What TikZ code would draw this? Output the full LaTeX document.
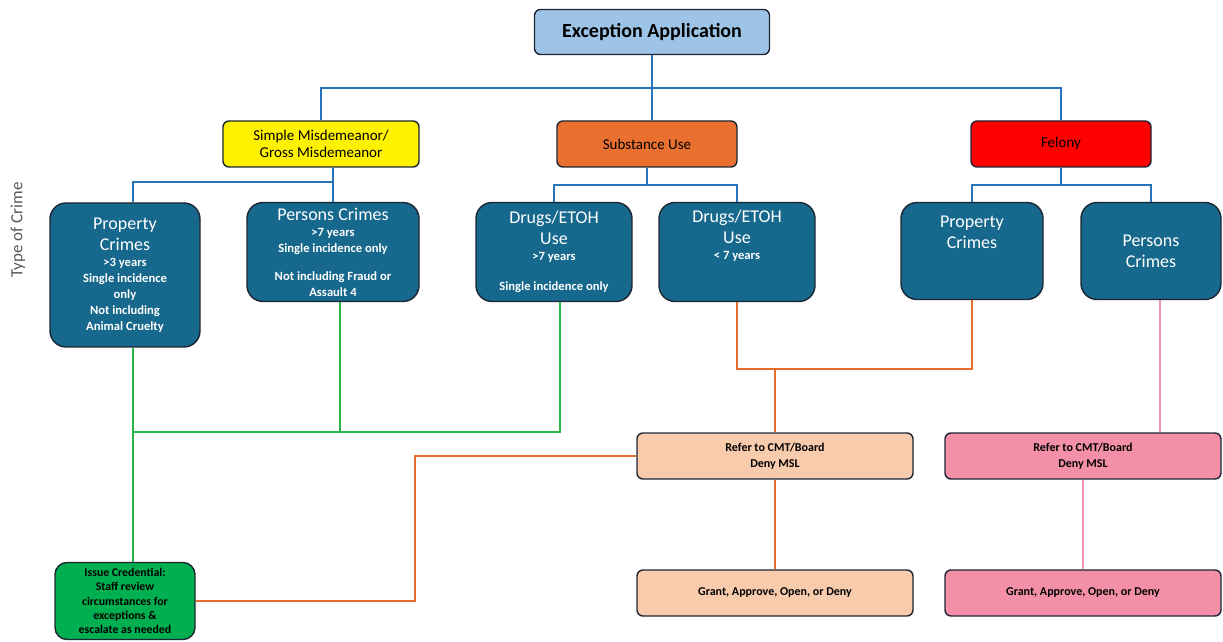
\documentclass[tikz,border=0pt]{standalone}
\usepackage{fontspec}
\setmainfont{Carlito}
\usetikzlibrary{positioning}
\definecolor{boxedge}{RGB}{30,38,52}
\definecolor{appblue}{RGB}{157,195,230}
\definecolor{crimeblue}{RGB}{22,104,140}
\definecolor{subsorange}{RGB}{234,112,48}
\definecolor{peach}{RGB}{248,203,173}
\definecolor{rosepink}{RGB}{244,143,168}
\definecolor{credgreen}{RGB}{0,176,80}
\definecolor{lineblue}{RGB}{40,116,186}
\definecolor{linegreen}{RGB}{40,180,70}
\definecolor{lineorange}{RGB}{230,110,45}
\definecolor{linepink}{RGB}{240,150,180}
\newcommand\crimenote{\fontsize{6.3}{8}\selectfont\bfseries}

\begin{document}
\begin{tikzpicture}[x=0.5pt,y=-0.5pt]
	\tikzset{box/.style={draw=boxedge, line width=0.7pt, align=center, inner sep=1pt, rounded corners=3pt},
		topbox/.style={box, fill=appblue, minimum width=117.5pt, minimum height=22.5pt, font=\fontsize{10}{12}\selectfont\bfseries},
		catbox/.style={box, minimum width=90pt, minimum height=23pt, font=\fontsize{7.5}{8.5}\selectfont},
		crimebox/.style={box, align=flush center, fill=crimeblue, text=white, rounded corners=8pt, font=\fontsize{9}{10.5}\selectfont},
		resultbox/.style={box, minimum width=138pt, minimum height=23pt, font=\fontsize{6}{8}\selectfont\bfseries},
		bline/.style={draw=lineblue, line width=1.2pt},
		gline/.style={draw=linegreen, line width=1.3pt},
		oline/.style={draw=lineorange, line width=1.3pt},
		pline/.style={draw=linepink, line width=1pt}}
	\useasboundingbox (0,0) rectangle (1223,642);

	\node[topbox] (app) at (652,32) {Exception Application};

	\node[catbox, fill=yellow, minimum width=98pt] (misd) at (321,144) {Simple Misdemeanor/\\Gross Misdemeanor};
	\node[catbox, fill=subsorange] (subst) at (647,144) {Substance Use};
	\node[catbox, fill=red] (felony) at (1061,144) {Felony};

	\node[crimebox, text width=73pt, minimum height=72pt] (lprop) at (125,275)
		{Property\\Crimes\par\crimenote >3 years\\Single incidence\\only\\Not including\\Animal Cruelty\par};
	\node[crimebox, text width=84pt, minimum height=49.5pt] (lpers) at (333,252)
		{Persons Crimes\par\crimenote >7 years\\Single incidence only\\[6pt]Not including Fraud or\\Assault 4\par};
	\node[crimebox, text width=76pt, minimum height=49.5pt] (drugA) at (554,252)
		{Drugs/ETOH\\Use\par\crimenote >7 years\\[7pt]Single incidence only\par};
	\node[crimebox, text width=76pt, minimum height=49.5pt] (drugB) at (737,252)
		{Drugs/ETOH\\Use\par\crimenote < 7 years\\[9pt]\mbox{}\par};
	\node[crimebox, text width=69pt, minimum height=48.5pt] (fprop) at (972,251) {Property\\Crimes\\[8pt]\mbox{}};
	\node[crimebox, text width=68pt, minimum height=48.5pt] (fpers) at (1151,251) {Persons\\Crimes};

	\node[box, fill=credgreen, rounded corners=6pt, minimum width=70pt, minimum height=38.5pt, font=\fontsize{5.9}{7.1}\selectfont\bfseries] (issue) at (125,601)
		{Issue Credential:\\Staff review\\circumstances for\\exceptions \&\\escalate as needed};
	\node[resultbox, fill=peach] (referO) at (775,456) {Refer to CMT/Board\\Deny MSL};
	\node[resultbox, fill=peach] (grantO) at (775,593) {Grant, Approve, Open, or Deny};
	\node[resultbox, fill=rosepink] (referP) at (1083,456) {Refer to CMT/Board\\Deny MSL};
	\node[resultbox, fill=rosepink] (grantP) at (1083,593) {Grant, Approve, Open, or Deny};

	\node[rotate=90, text=black!65, font=\fontsize{8.5}{10}\selectfont] (crimetype) at (18,230) {Type of Crime};

	% blue tree
	\coordinate (topbus) at (652,88);
	\coordinate (misdbus) at (333,182);
	\coordinate (subbus) at (647,185);
	\coordinate (felbus) at (1061,185);
	\draw[bline] (app.south) -- (app.south |- subst.north);
	\draw[bline] (misd) |- (topbus) -| (felony);
	\draw[bline] (misd.south -| misdbus) -- (misdbus);
	\draw[bline] ([xshift=4pt]lprop.north) |- (misdbus) -| (lpers);
	\draw[bline] (subst) -- (subbus);
	\draw[bline] (drugA) |- (subbus) -| (drugB);
	\draw[bline] (felony) -- (felbus);
	\draw[bline] (fprop) |- (felbus) -| (fpers);

	% green
	\coordinate (gjoin) at (133,432);
	\draw[gline] ([xshift=4pt]lprop.south) -- ([xshift=4pt]issue.north);
	\draw[gline] ([xshift=3.5pt]lpers.south) |- (gjoin);
	\draw[gline] ([xshift=3pt]drugA.south) |- (gjoin);

	% orange
	\coordinate (ojoin) at (775,369);
	\coordinate (obend) at (415,456);
	\draw[oline] (drugB) |- (ojoin) -| (fprop);
	\draw[oline] (ojoin) -- (referO);
	\draw[oline] (referO) -- (grantO);
	\draw[oline] (referO.west) -- (obend) |- (issue);

	% pink
	\draw[pline] ([xshift=4.5pt]fpers.south) -- ([xshift=4.5pt]fpers.south |- referP.north);
	\draw[pline] (referP) -- (grantP);
\end{tikzpicture}
\end{document}
